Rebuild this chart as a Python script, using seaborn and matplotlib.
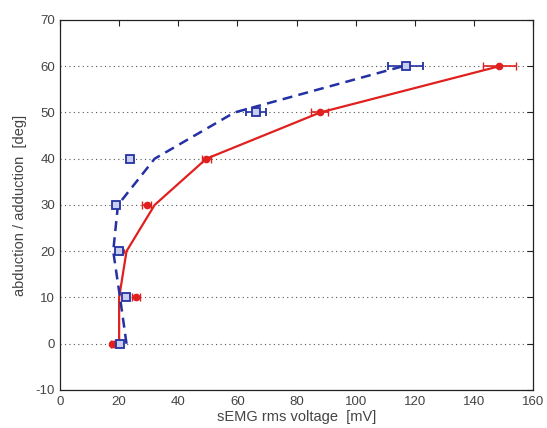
import matplotlib
matplotlib.use("Agg")
import matplotlib.pyplot as plt
import seaborn as sns
import pandas as pd
import numpy as np

sns.set_style("white")
plt.rcParams['font.family'] = ['Liberation Sans', 'DejaVu Sans']
plt.rcParams['axes.unicode_minus'] = False

# angles (deg)
angles = [0, 10, 20, 30, 40, 50, 60]

# measured points (markers) with horizontal error
red_x = [17.7, 25.7, 20.5, 29.3, 49.5, 87.8, 148.6]
red_err = [0.6, 1.5, 0.5, 1.5, 1.5, 3.0, 5.5]
blue_x = [20.4, 22.3, 20.0, 19.1, 23.6, 66.2, 116.9]
blue_err = [0.6, 1.0, 0.8, 1.0, 1.0, 3.4, 6.0]

# model curves
red_fit_x = [20.0, 20.0, 22.5, 32.0, 49.5, 88.0, 148.6]
blue_fit_x = [22.5, 20.3, 18.0, 19.6, 32.0, 59.0, 116.0]

RED = "#e0201e"
BLUE = "#2331a3"

fig = plt.figure(figsize=(5.47, 4.28), dpi=100)
ax = fig.add_axes([0.1097, 0.0888, 0.8647, 0.8645])

fits = pd.DataFrame({"angle": angles, "red": red_fit_x, "blue": blue_fit_x})
sns.lineplot(data=fits, x="red", y="angle", sort=False, ax=ax,
             color=RED, linewidth=1.6, estimator=None)
sns.lineplot(data=fits, x="blue", y="angle", sort=False, ax=ax,
             color=BLUE, linewidth=1.8, linestyle=(0, (4, 2.5)), estimator=None)

ax.errorbar(red_x, angles, xerr=red_err, fmt="o", color=RED, ms=4.5,
            mfc=RED, mec=RED, elinewidth=1.2, capsize=3, zorder=3)
ax.errorbar(blue_x, angles, xerr=blue_err, fmt="s", color=BLUE, ms=5.2,
            mfc="#c9cdee", mec=BLUE, mew=1.3, elinewidth=1.2, capsize=3, zorder=4)

ax.set_xlim(0, 160)
ax.set_ylim(-10, 70)
ax.set_xticks(np.arange(0, 161, 20))
ax.set_yticks(np.arange(-10, 71, 10))
ax.yaxis.grid(True, linestyle=(0, (1, 3)), color="#555555", linewidth=0.8)
ax.xaxis.grid(False)

for s in ax.spines.values():
    s.set_color("#222222")
    s.set_linewidth(0.9)
ax.tick_params(direction="in", length=4, top=True, right=True,
               labelsize=9.5, colors="#222222", labelcolor="#444444")
ax.tick_params(axis="x", pad=4)

ax.set_xlabel("sEMG rms voltage  [mV]", fontsize=10.5, color="#444444", labelpad=2)
ax.set_ylabel("abduction / adduction  [deg]", fontsize=10.5, color="#444444", labelpad=6)

fig.savefig("out.png", dpi=100)
